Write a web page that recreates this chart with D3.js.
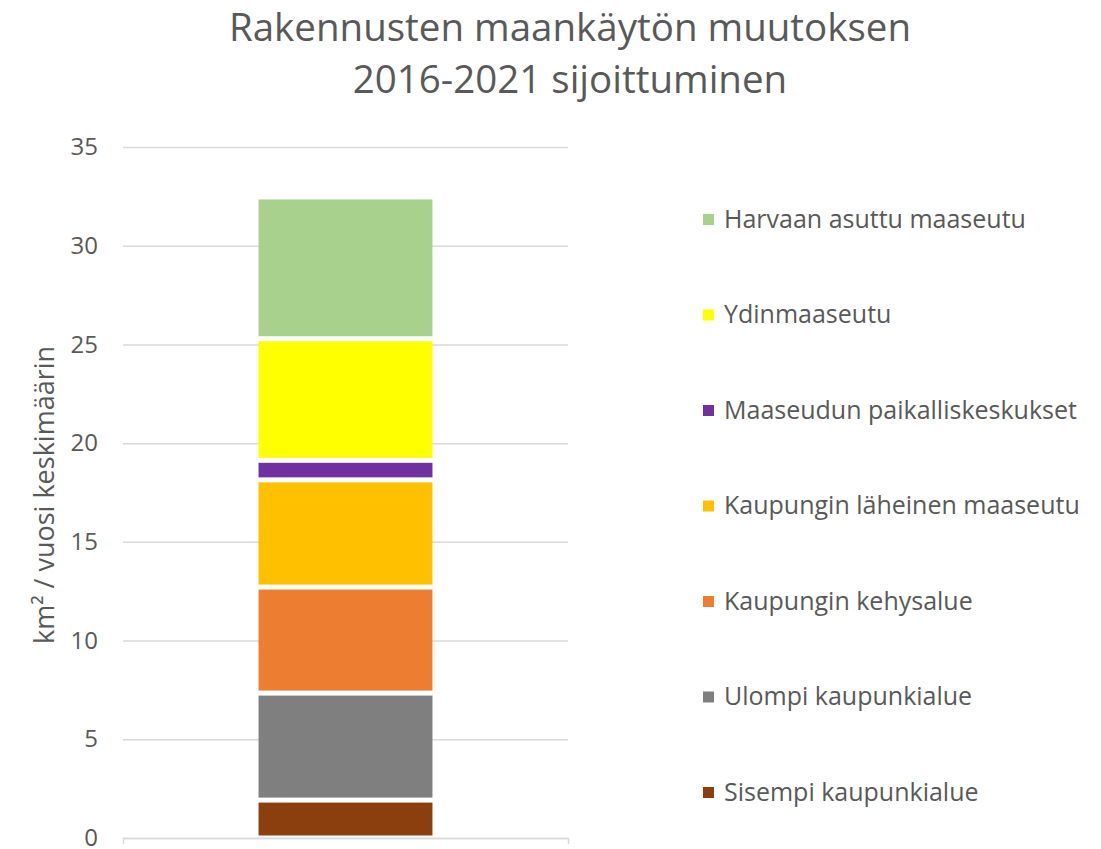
<html>
<head>
<meta charset="utf-8">
<script src='https://d3js.org/d3.v7.min.js'></script>
<style>
body { margin: 0; background: #fff; }
text { font-family: 'Open Sans', 'Noto Sans', sans-serif; fill: #595959; }
.grid line { stroke: #d9d9d9; stroke-width: 1.5; }
</style>
</head>
<body onload='init()'>
<svg width=1101 height=849></svg>
<script>
// bottom to top of the stack
const categories = ["Sisempi kaupunkialue", "Ulompi kaupunkialue", "Kaupungin kehysalue",
    "Kaupungin läheinen maaseutu", "Maaseudun paikalliskeskukset", "Ydinmaaseutu", "Harvaan asuttu maaseutu"];
const values = [1.92, 5.42, 5.37, 5.43, 0.99, 6.16, 7.18];
const colors = ["#8b3e0e", "#7f7f7f", "#ed7d31", "#ffc000", "#7030a0", "#ffff00", "#a9d18e"];
const yTicks = [0, 5, 10, 15, 20, 25, 30, 35];
const titleLines = ["Rakennusten maankäytön muutoksen", "2016-2021 sijoittuminen"];
const yLabel = "km² / vuosi keskimäärin";

function init() {
    const svg = d3.select("svg");

    const left = 123, right = 568, top = 147, bottom = 838;

    const x = d3.scaleBand().domain(["all"]).range([left, right]).padding(0.438);
    const y = d3.scaleLinear().domain([0, 35]).range([bottom, top]);

    // title
    svg.append("text")
        .attr("text-anchor", "middle")
        .style("font-size", "38.5px")
        .selectAll("tspan")
        .data(titleLines)
        .enter()
        .append("tspan")
        .attr("x", 570)
        .attr("y", (d, i) => 41 + i * 52)
        .text(d => d);

    // gridlines + tick labels
    const yAxis = d3.axisLeft(y).tickValues(yTicks).tickSize(-(right - left)).tickPadding(25);
    const g = svg.append("g")
        .attr("class", "grid")
        .attr("transform", `translate(${left},0)`)
        .call(yAxis);
    g.select(".domain").remove();
    g.selectAll("text").style("font-size", "24px").style("fill", "#595959");

    // stacked segments
    let acc = 0;
    const stacked = values.map((v, i) => {
        const s = { start: acc, end: acc + v, color: colors[i], name: categories[i] };
        acc += v;
        return s;
    });
    const gap = 2.5;
    svg.selectAll("rect.seg")
        .data(stacked)
        .enter()
        .append("rect")
        .attr("class", "seg")
        .attr("x", x("all"))
        .attr("width", x.bandwidth())
        .attr("y", d => y(d.end) + gap)
        .attr("height", d => y(d.start) - y(d.end) - 2 * gap)
        .attr("fill", d => d.color);

    // baseline with end ticks
    const xAxis = d3.axisBottom(x).tickSizeInner(0).tickSizeOuter(6).tickFormat("");
    const xa = svg.append("g")
        .attr("transform", `translate(0,${bottom})`)
        .call(xAxis);
    xa.select(".domain").attr("stroke", "#d9d9d9").attr("stroke-width", 1.5);
    xa.selectAll(".tick").remove();

    // y axis title
    svg.append("text")
        .attr("transform", `translate(54,495) rotate(-90)`)
        .attr("text-anchor", "middle")
        .style("font-size", "27px")
        .text(yLabel);

    // legend (top item is last in stack)
    const legend = svg.selectAll("g.leg")
        .data(stacked.slice().reverse())
        .enter()
        .append("g")
        .attr("class", "leg")
        .attr("transform", (d, i) => `translate(703,${219 + i * 95.5})`);
    legend.append("rect")
        .attr("x", 0).attr("y", -5)
        .attr("width", 11).attr("height", 11)
        .attr("fill", d => d.color);
    legend.append("text")
        .attr("x", 21).attr("y", 0)
        .attr("dy", "0.35em")
        .style("font-size", "25px")
        .text(d => d.name);
}
</script>
</body>
</html>
